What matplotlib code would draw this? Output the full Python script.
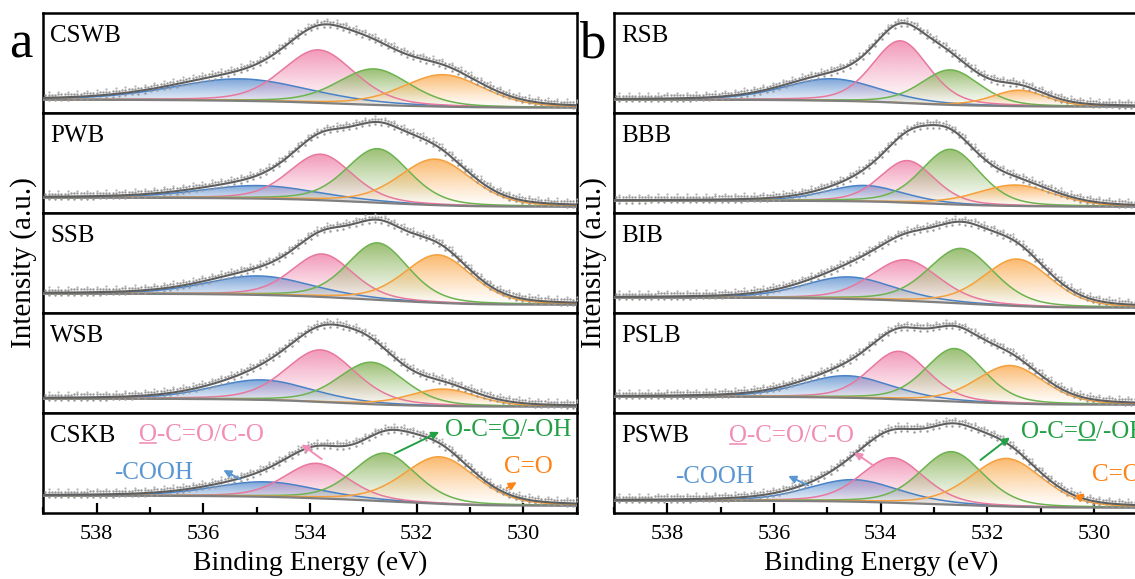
import numpy as np
import matplotlib
matplotlib.use("Agg")
import matplotlib.pyplot as plt
from matplotlib.ticker import MultipleLocator
from matplotlib.lines import Line2D

plt.rcParams["font.family"] = ["Liberation Serif", "DejaVu Serif"]

# ---- O 1s peak-fit parameters (binding energy in eV, height and FWHM) ----
samples_a = ["CSWB", "PWB", "SSB", "WSB", "CSKB"]
samples_b = ["RSB", "BBB", "BIB", "PSLB", "PSWB"]
samples = samples_a + samples_b

# -COOH component
cooh_pos = [535.30, 534.96, 534.96, 534.90, 534.84, 534.92, 534.31, 534.60, 534.64, 534.51]
cooh_amp = [0.22, 0.13, 0.19, 0.20, 0.15, 0.22, 0.16, 0.22, 0.22, 0.22]
cooh_fwhm = [3.0, 2.6, 2.3, 2.2, 2.3, 2.1, 1.7, 2.0, 2.0, 2.0]
# O-C=O / C-O component
coc_pos = [533.84, 533.80, 533.77, 533.80, 533.88, 533.63, 533.50, 533.54, 533.66, 533.78]
coc_amp = [0.53, 0.46, 0.43, 0.52, 0.35, 0.62, 0.42, 0.41, 0.48, 0.45]
coc_fwhm = [1.6, 1.4, 1.35, 1.55, 1.4, 1.25, 1.2, 1.5, 1.3, 1.4]
# O-C=O / -OH component
oh_pos = [532.80, 532.73, 532.73, 532.85, 532.60, 532.69, 532.69, 532.49, 532.61, 532.67]
oh_amp = [0.36, 0.54, 0.57, 0.42, 0.48, 0.35, 0.55, 0.55, 0.53, 0.53]
oh_fwhm = [1.6, 1.4, 1.35, 1.45, 1.4, 1.3, 1.3, 1.45, 1.3, 1.4]
# C=O component
co_pos = [531.50, 531.65, 531.60, 531.50, 531.57, 531.40, 531.47, 531.44, 531.57, 531.64]
co_amp = [0.32, 0.46, 0.48, 0.17, 0.47, 0.16, 0.21, 0.47, 0.38, 0.48]
co_fwhm = [1.8, 1.6, 1.5, 1.5, 1.6, 1.2, 1.7, 1.5, 1.5, 1.6]
# Shirley background end levels (high-BE side, low-BE side)
bg_high = [0.13, 0.15, 0.19, 0.14, 0.17, 0.13, 0.12, 0.15, 0.16, 0.12]
bg_low = [0.05, 0.06, 0.08, 0.06, 0.07, 0.06, 0.06, 0.05, 0.08, 0.05]

comp_fill = ["#6C9AD4", "#F08CB0", "#8DB660", "#FBB05A"]
comp_line = ["#4A82C8", "#E8789E", "#6DB34F", "#F5A03C"]

be = np.linspace(529.0, 539.0, 1001)
GL_MIX = 0.3


def gl_peak(x, c, a, w):
    g = np.exp(-4 * np.log(2) * (x - c) ** 2 / w ** 2)
    l = 1.0 / (1.0 + 4 * (x - c) ** 2 / w ** 2)
    return a * ((1 - GL_MIX) * g + GL_MIX * l)


def shirley(x, total, hi, lo):
    # cumulative area counted from the low binding-energy end
    cum = np.concatenate([[0.0], np.cumsum(0.5 * (total[1:] + total[:-1]) * np.diff(x))])
    return lo + (hi - lo) * cum / cum[-1]


def gradient_fill(ax, x, lower, upper, color, z):
    poly = ax.fill_between(x, lower, upper, facecolor="none", edgecolor="none", zorder=z)
    rgb = matplotlib.colors.to_rgb(color)
    n = 200
    img = np.zeros((n, 1, 4))
    img[:, 0, :3] = rgb
    img[:, 0, 3] = np.linspace(0.0, 0.9, n) ** 1.2
    im = ax.imshow(img, extent=[x.min(), x.max(), lower.min(), upper.max()],
                   origin="lower", aspect="auto", zorder=z, interpolation="bilinear")
    im.set_clip_path(poly.get_paths()[0], transform=ax.transData)


def draw_panel(ax, i):
    comps = [
        gl_peak(be, cooh_pos[i], cooh_amp[i], cooh_fwhm[i]),
        gl_peak(be, coc_pos[i], coc_amp[i], coc_fwhm[i]),
        gl_peak(be, oh_pos[i], oh_amp[i], oh_fwhm[i]),
        gl_peak(be, co_pos[i], co_amp[i], co_fwhm[i]),
    ]
    total = np.sum(comps, axis=0)
    bg = shirley(be, total, bg_high[i], bg_low[i])
    env = bg + total
    for k, p in enumerate(comps):
        gradient_fill(ax, be, bg, bg + p, comp_fill[k], 2 + k)
    for k, p in enumerate(comps):
        ax.plot(be, bg + p, color=comp_line[k], lw=1.1, zorder=7)
    ax.plot(be, bg, color="#7F7F7F", lw=1.6, zorder=8)
    # measured points scattered about the fitted envelope
    xs = be[::6]
    es = env[::6]
    ax.plot(xs, es + 0.03, ls="none", marker=".", ms=1.5, color="#9A9A9A", zorder=9)
    ax.plot(xs[1::2], es[1::2] - 0.025, ls="none", marker=".", ms=1.5, color="#9A9A9A", zorder=9)
    ax.plot(xs[::3], es[::3] + 0.055, ls="none", marker=".", ms=1.2, color="#B0B0B0", zorder=9)
    ax.plot(be, env, color="#5E5E5E", lw=1.5, zorder=10)
    ax.set_xlim(539, 529)
    ax.set_ylim(0, 1.0)
    ax.set_yticks([])
    ax.text(0.013, 0.77, samples[i], transform=ax.transAxes, fontsize=18,
            va="center", ha="left", zorder=12)


fig = plt.figure(figsize=(11.35, 5.79), dpi=100)
W = 1135.0
H = 579.0
top_px, bot_px = 12.7, 512.7
row_h = (bot_px - top_px) / 5
panel_left = [43.3, 614.0]
panel_w = 533.4

axes = {}
for p in range(2):
    for r in range(5):
        y0 = 1 - (top_px + (r + 1) * row_h) / H
        ax = fig.add_axes([panel_left[p] / W, y0, panel_w / W, row_h / H])
        idx = p * 5 + r
        draw_panel(ax, idx)
        for s in ax.spines.values():
            s.set_linewidth(1.8)
        ax.xaxis.set_major_locator(MultipleLocator(2))
        ax.xaxis.set_minor_locator(MultipleLocator(1))
        if r < 4:
            ax.tick_params(axis="x", which="both", bottom=False, labelbottom=False)
        else:
            ax.tick_params(axis="x", which="major", direction="in", length=7, width=1.6,
                           labelsize=16, pad=9)
            ax.tick_params(axis="x", which="minor", direction="in", length=4, width=1.6)
            ax.set_xlabel("Binding Energy (eV)", fontsize=20, labelpad=5)
        axes[idx] = ax

renderer = fig.canvas.get_renderer()


def underlined_label(ax, x, y, text, start, stop, color, fs=18):
    """Write text at baseline (x, y) and underline characters text[start:stop]."""
    kw = dict(color=color, fontsize=fs, va="baseline", ha="left", zorder=12, clip_on=False)
    t = ax.text(x, y, text, **kw)
    if stop > start:
        pre = ax.text(x, y, text[:start], **kw) if start > 0 else None
        upto = ax.text(x, y, text[:stop], **kw)
        x0_disp = pre.get_window_extent(renderer).x1 if pre else upto.get_window_extent(renderer).x0
        x1_disp = upto.get_window_extent(renderer).x1
        if pre:
            pre.remove()
        upto.remove()
        base = ax.transData.transform((x, y))[1] - 2.5
        inv = fig.transFigure.inverted()
        (fx0, fy), (fx1, _) = inv.transform([(x0_disp + 1, base), (x1_disp - 1, base)])
        fig.add_artist(Line2D([fx0, fx1], [fy, fy], color=color, lw=1.2, zorder=12))
    return t


# component annotations in the bottom rows
for idx, spec in ((4, dict(coc=(537.2, 0.72), cooh=(537.67, 0.34), oh=(531.46, 0.77), co=(530.36, 0.40),
                         a_cooh=((535.26, 0.32), (535.67, 0.44)), a_coc=((533.74, 0.52), (534.2, 0.70)),
                         a_oh=((532.46, 0.58), (531.53, 0.82)), a_co=((530.36, 0.23), (530.08, 0.32)))),
                  (9, dict(coc=(536.85, 0.71), cooh=(537.85, 0.30), oh=(531.37, 0.75), co=(530.03, 0.32),
                           a_cooh=((535.31, 0.26), (535.78, 0.38)), a_coc=((534.08, 0.45), (534.54, 0.62)),
                           a_oh=((532.17, 0.51), (531.54, 0.77)), a_co=((530.33, 0.13), (530.13, 0.21))))):
    ax = axes[idx]
    underlined_label(ax, *spec["coc"], "O-C=O/C-O", 0, 1, "#F28DB6")
    underlined_label(ax, *spec["cooh"], "-COOH", 0, 0, "#5A96D2")
    underlined_label(ax, *spec["oh"], "O-C=O/-OH", 4, 5, "#23A045")
    underlined_label(ax, *spec["co"], "C=O", 0, 0, "#FF8418")
    for key, col in (("a_cooh", "#5A96D2"), ("a_coc", "#F28DB6"), ("a_oh", "#23A045"), ("a_co", "#FF8418")):
        tail, head = spec[key]
        ax.annotate("", xy=head, xytext=tail,
                    arrowprops=dict(arrowstyle="-|>", color=col, lw=1.4, mutation_scale=11),
                    zorder=12)

# shared axis titles and panel letters
for p, letter in enumerate(["a", "b"]):
    cx = panel_left[p] - 20
    fig.text(cx / W, 1 - 262.7 / H, "Intensity (a.u.)", rotation=90, fontsize=21,
             ha="center", va="center")
    fig.text((panel_left[p] - 22) / W, 1 - 45 / H, letter, fontsize=38, ha="center", va="center")

fig.savefig("out.png", dpi=100)
